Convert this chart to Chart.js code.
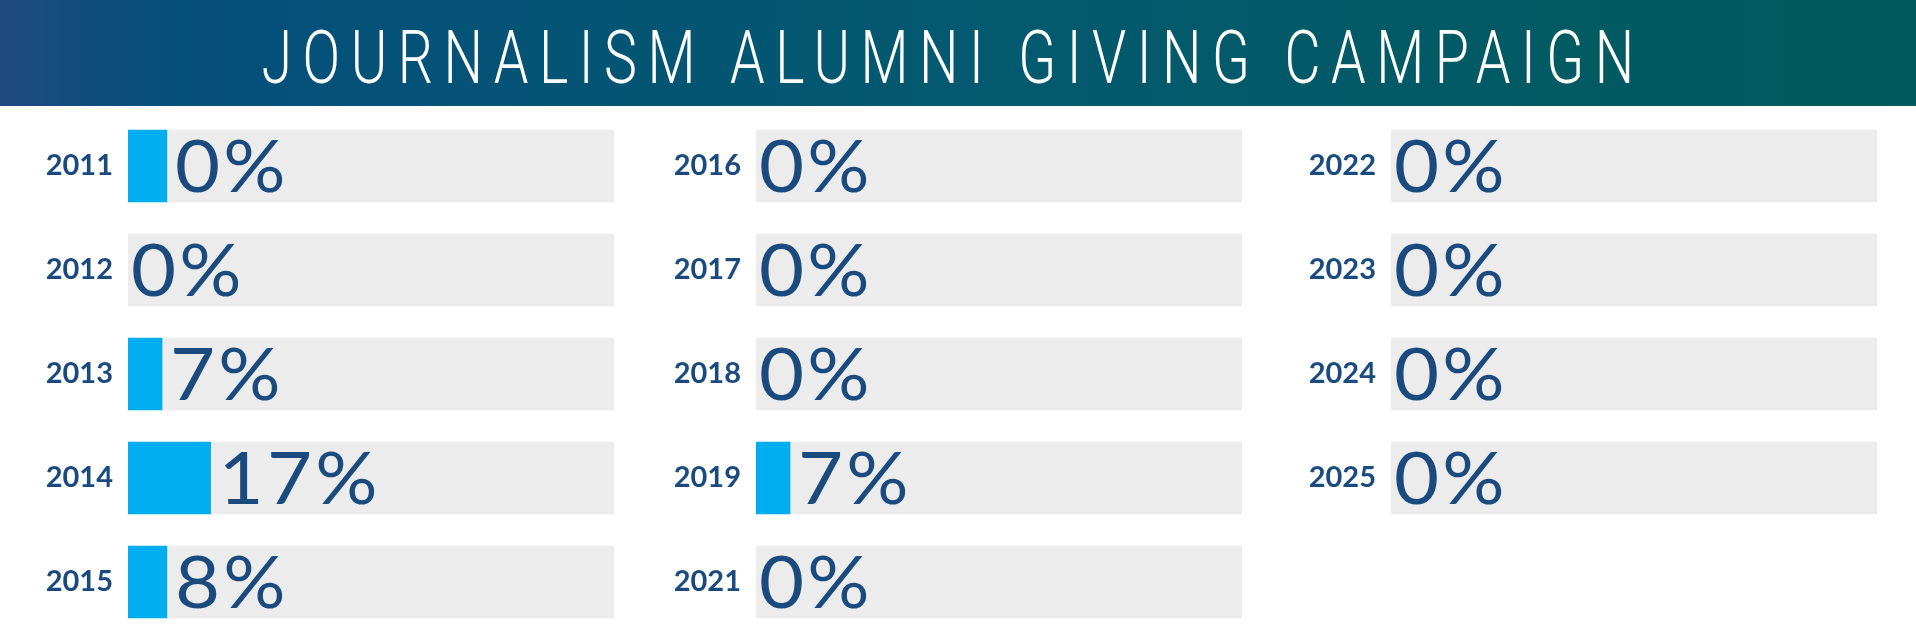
<!DOCTYPE html>
<html>
<head>
<meta charset="utf-8">
<script src="https://cdn.jsdelivr.net/npm/chart.js@4"></script>
<style>
body { margin: 0; background: #fff; }
#page { position: relative; width: 1916px; height: 643px; overflow: hidden; background: #fff; }
#header {
    position: absolute; left: 0; top: 0; width: 1916px; height: 106px;
    background: linear-gradient(90deg, #1e4a80 0%, #054f7b 9%, #03596f 50%, #015b5c 100%);
}
#header h1 {
    position: absolute; left: -5px; top: 21px; width: 100%; margin: 0;
    text-align: center; font: 300 74px Roboto, sans-serif; line-height: 74px;
    color: #fff;
}
#header h1 span { display: inline-block; transform: scaleX(0.75); letter-spacing: 14px; }
canvas { position: absolute; top: 106px; }
</style>
</head>
<body>
<div id="page">
    <div id="header"><h1><span>JOURNALISM ALUMNI GIVING CAMPAIGN</span></h1></div>
    <canvas id="col1" width="640" height="537" style="left:0px"></canvas>
    <canvas id="col2" width="640" height="537" style="left:628px"></canvas>
    <canvas id="col3" width="640" height="537" style="left:1263px"></canvas>
</div>
<script>
// dados por coluna
const years1 = ['2011', '2012', '2013', '2014', '2015'];
const giving1 = [8, 0, 7, 17, 8];
const shown1 = ['0%', '0%', '7%', '17%', '8%'];

const years2 = ['2016', '2017', '2018', '2019', '2021'];
const giving2 = [0, 0, 0, 7, 0];
const shown2 = ['0%', '0%', '0%', '7%', '0%'];

const years3 = ['2022', '2023', '2024', '2025', ''];
const giving3 = [0, 0, 0, 0, null];
const shown3 = ['0%', '0%', '0%', '0%', ''];

const textBlue = '#1b4b7e';

// texto grande de porcentagem ao lado da barra
const percentLabels = {
    id: 'percentLabels',
    afterDatasetsDraw(chart, args, opts) {
        const ctx = chart.ctx;
        const xs = chart.scales.x;
        const ys = chart.scales.y;
        opts.labels.forEach(function(txt, i) {
            if (!txt) return;
            const v = opts.values[i] || 0;
            const x = xs.getPixelForValue(v) + (v > 0 ? 8 : 3);
            ctx.save();
            ctx.font = '400 72px Lato, sans-serif';
            ctx.letterSpacing = '3px';
            ctx.fillStyle = textBlue;
            ctx.textAlign = 'left';
            ctx.textBaseline = 'alphabetic';
            ctx.translate(x, ys.getPixelForValue(i) + 26);
            ctx.scale(1.08, 1);
            ctx.fillText(txt, 0, 0);
            ctx.restore();
        });
    }
};

function makeChart(id, years, giving, shown) {
    const ctx = document.getElementById(id).getContext('2d');
    return new Chart(ctx, {
        type: 'bar',
        data: {
            labels: years,
            datasets: [{
                data: giving.map(v => v || null),
                backgroundColor: '#00aeef',
                barThickness: 72,
                grouped: false,
                order: 0
            }, {
                data: years.map(y => y ? 100 : null),
                backgroundColor: '#ececec',
                barThickness: 72,
                grouped: false,
                order: 1
            }]
        },
        options: {
            indexAxis: 'y',
            responsive: false,
            animation: false,
            layout: { padding: { top: 8, bottom: 9, left: 0, right: 26 } },
            scales: {
                x: { min: 0, max: 100, display: false },
                y: {
                    grid: { display: false, drawTicks: false },
                    border: { display: false },
                    ticks: {
                        padding: 15,
                        color: textBlue,
                        font: { family: 'Lato', weight: 'bold', size: 29 }
                    },
                    afterFit: function(scale) {
                        scale.width = 128;
                        scale.paddingTop = 0;
                        scale.paddingBottom = 0;
                    }
                }
            },
            plugins: {
                legend: { display: false },
                tooltip: { enabled: false },
                percentLabels: { labels: shown, values: giving }
            }
        },
        plugins: [percentLabels]
    });
}

makeChart('col1', years1, giving1, shown1);
makeChart('col2', years2, giving2, shown2);
makeChart('col3', years3, giving3, shown3);
</script>
</body>
</html>
